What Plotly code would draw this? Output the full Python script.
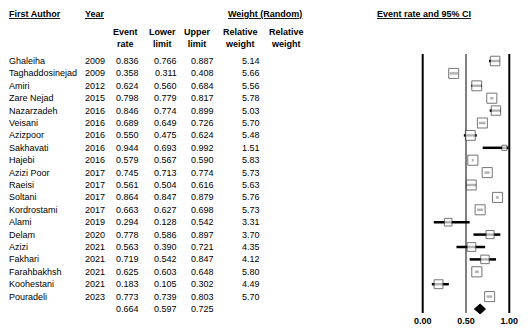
import plotly.graph_objects as go

# Study-level data (random-effects meta-analysis of event rates)
authors = ["Ghaleiha", "Taghaddosinejad", "Amiri", "Zare Nejad", "Nazarzadeh", "Veisani",
           "Azizpoor", "Sakhavati", "Hajebi", "Azizi Poor", "Raeisi", "Soltani",
           "Kordrostami", "Alami", "Delam", "Azizi", "Fakhari", "Farahbakhsh",
           "Koohestani", "Pouradeli"]
years = [2009, 2009, 2012, 2015, 2016, 2016, 2016, 2016, 2016, 2017, 2017, 2017,
         2017, 2019, 2020, 2021, 2021, 2021, 2021, 2023]
event_rate = [0.836, 0.358, 0.624, 0.798, 0.846, 0.689, 0.550, 0.944, 0.579, 0.745,
              0.561, 0.864, 0.663, 0.294, 0.778, 0.563, 0.719, 0.625, 0.183, 0.773]
lower_limit = [0.766, 0.311, 0.560, 0.779, 0.774, 0.649, 0.475, 0.693, 0.567, 0.713,
               0.504, 0.847, 0.627, 0.128, 0.586, 0.390, 0.542, 0.603, 0.105, 0.739]
upper_limit = [0.887, 0.408, 0.684, 0.817, 0.899, 0.726, 0.624, 0.992, 0.590, 0.774,
               0.616, 0.879, 0.698, 0.542, 0.897, 0.721, 0.847, 0.648, 0.302, 0.803]
rel_weight = [5.14, 5.66, 5.56, 5.78, 5.03, 5.70, 5.48, 1.51, 5.83, 5.73,
              5.63, 5.76, 5.73, 3.31, 3.70, 4.35, 4.12, 5.80, 4.49, 5.70]

# Pooled estimate
pooled_rate, pooled_lower, pooled_upper = 0.664, 0.597, 0.725

tick_vals = [0, 0.5, 1]
tick_labels = ["0.00", "0.50", "1.00"]

W, H = 530, 331
FONT = "Liberation Sans, Arial, sans-serif"
FS = 9

n = len(authors)
rows = list(range(n))
pooled_row = n

# Pixel layout helpers: x axis maps 0..1 onto the forest panel, rows are evenly spaced
X0_PX, X1_PX = 422.7, 509.3
ROW0_PX, ROW_STEP = 61.0, 12.4
PLOT_BOTTOM_PX = 314.0


def px_to_x(px):
    return (px - X0_PX) / (X1_PX - X0_PX)


def px_to_row(py):
    return (py - ROW0_PX) / ROW_STEP


fig = go.Figure()

# Confidence-interval whiskers
ci_x, ci_y = [], []
for i in rows:
    ci_x += [lower_limit[i], upper_limit[i], None]
    ci_y += [i, i, None]
fig.add_trace(go.Scatter(x=ci_x, y=ci_y, mode="lines",
                         line=dict(color="black", width=2.5), hoverinfo="skip",
                         showlegend=False))

# Point estimates, box size scaled by relative weight
fig.add_trace(go.Scatter(
    x=event_rate, y=rows, mode="markers",
    marker=dict(symbol="square", size=[4.2 * w ** 0.5 for w in rel_weight],
                color="white", line=dict(color="#3c3c3c", width=1)),
    showlegend=False))

# Pooled diamond
half_h = 0.4
fig.add_trace(go.Scatter(
    x=[pooled_lower, pooled_rate, pooled_upper, pooled_rate, pooled_lower],
    y=[pooled_row, pooled_row - half_h, pooled_row, pooled_row + half_h, pooled_row],
    mode="lines", fill="toself", fillcolor="black",
    line=dict(color="black", width=1), showlegend=False))

# Reference lines at 0, 0.5 and 1
y_top, y_bot = px_to_row(54), px_to_row(313)
for v, col in zip(tick_vals, ["black", "#808080", "black"]):
    fig.add_shape(type="line", xref="x", yref="y", x0=v, x1=v, y0=y_top, y1=y_bot,
                  line=dict(color=col, width=2), layer="below")

annotations = []


def add_text(text, xpx, row, anchor="left", bold=False):
    annotations.append(dict(
        text=f"<b>{text}</b>" if bold else text,
        x=xpx / W, xref="paper", y=row, yref="y",
        xanchor=anchor, yanchor="middle", showarrow=False,
        borderpad=0, borderwidth=0,
        font=dict(family=FONT, size=FS, color="black")))


# Column headers
hdr_row = px_to_row(14)
add_text("<u>First Author</u>", 9, hdr_row, bold=True)
add_text("<u>Year</u>", 85, hdr_row, bold=True)
add_text("<u>Weight (Random)</u>", 265, hdr_row, anchor="center", bold=True)
add_text("<u>Event rate and 95% CI</u>", 423.5, hdr_row, anchor="center", bold=True)

sub_row = px_to_row(37.5)
for label, cx in [("Event<br>rate", 125), ("Lower<br>limit", 162), ("Upper<br>limit", 198),
                  ("Relative<br>weight", 240), ("Relative<br>weight", 286)]:
    annotations.append(dict(
        text=f"<b>{label}</b>", x=cx / W, xref="paper", y=sub_row, yref="y",
        xanchor="center", yanchor="middle", showarrow=False, align="center",
        borderpad=0, borderwidth=0,
        font=dict(family=FONT, size=FS, color="black")))

# Study rows
for i in rows:
    add_text(authors[i], 9, i)
    add_text(str(years[i]), 85, i)
    add_text(f"{event_rate[i]:.3f}", 139, i, anchor="right")
    add_text(f"{lower_limit[i]:.3f}", 177, i, anchor="right")
    add_text(f"{upper_limit[i]:.3f}", 214, i, anchor="right")
    add_text(f"{rel_weight[i]:.2f}", 260, i, anchor="right")

add_text(f"{pooled_rate:.3f}", 139, pooled_row, anchor="right")
add_text(f"{pooled_lower:.3f}", 177, pooled_row, anchor="right")
add_text(f"{pooled_upper:.3f}", 214, pooled_row, anchor="right")

fig.update_layout(
    width=W, height=H, margin=dict(l=0, r=0, t=0, b=0),
    paper_bgcolor="white", plot_bgcolor="white",
    annotations=annotations,
    xaxis=dict(range=[px_to_x(0), px_to_x(W)], domain=[0, 1],
               tickvals=tick_vals, ticktext=[f"<b>{t}</b>" for t in tick_labels],
               tickfont=dict(family=FONT, size=FS, color="black"),
               showgrid=False, zeroline=False, showline=False, ticks="",
               automargin=False, fixedrange=True),
    yaxis=dict(range=[px_to_row(PLOT_BOTTOM_PX), px_to_row(0)],
               domain=[(H - PLOT_BOTTOM_PX) / H, 1],
               visible=False, showgrid=False, zeroline=False, automargin=False,
               fixedrange=True),
    showlegend=False,
)

fig.write_html("out.html")
